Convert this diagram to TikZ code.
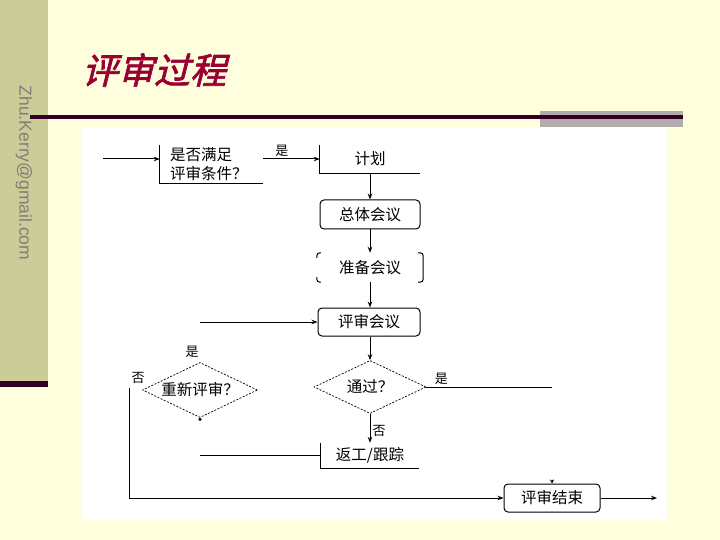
\documentclass[tikz,border=0pt]{standalone}
\usepackage{fontspec}
\setmainfont{Liberation Sans}
\newfontfamily\cjk{Noto Sans CJK SC}
\newfontfamily\cjktitle[FakeSlant=0.25,FakeBold=2]{Noto Sans CJK SC}
\usetikzlibrary{shapes.geometric,arrows.meta,calc}
\definecolor{cream}{HTML}{FFFFDD}
\definecolor{khaki}{HTML}{CCCC99}
\definecolor{darkplum}{HTML}{330022}
\definecolor{barGray}{HTML}{B2ADAD}
\definecolor{titlered}{HTML}{990033}
\definecolor{mailgray}{HTML}{7F7F7A}
\tikzset{
  flow/.style={font=\cjk\fontsize{15.5}{19}\selectfont, inner sep=0pt, align=center},
  rbox/.style={flow, draw, rounded corners=4pt, line width=1pt},
  plainbox/.style={flow},
  dia/.style={flow, diamond, draw, aspect=2.1, line width=0.7pt, dash pattern=on 2pt off 1.5pt},
  conn/.style={line width=1pt},
  arr/.style={-{Stealth[length=6pt,width=4.5pt]}},
  lab/.style={font=\cjk\fontsize{13}{13}\selectfont, inner sep=1pt},
}
\begin{document}
\begin{tikzpicture}[x=1pt,y=-1pt]
\useasboundingbox (0,0) rectangle (720,540);
% background
\fill[cream] (0,0) rectangle (720,540);
\fill[khaki] (0,0) rectangle (48,387);
\fill[darkplum] (0,381) rectangle (48,387);
\fill[barGray] (540,111) rectangle (683,127);
\draw[darkplum, line width=3.5pt] (30,117) -- (683,117);
\fill[white] (82,127) rectangle (667,520);
% texts
\node[rotate=-90, font=\fontsize{17.5}{17.5}\selectfont, text=mailgray, inner sep=0] (mail) at (24,173) {Zhu.Kerry@gmail.com};
\node[font=\cjktitle\fontsize{36}{36}\selectfont, text=titlered, inner sep=0] (title) at (154,70) {评审过程};
% nodes
\node[plainbox, text width=83pt, inner xsep=10pt, align=left, minimum height=38pt] (cond) at (211.5,164) {是否满足\\评审条件？};
\node[plainbox, minimum width=100pt, minimum height=28pt] (plan) at (370,159) {计划};
\node[rbox, minimum width=100pt, minimum height=29pt] (total) at (370,214.5) {总体会议};
\node[plainbox, minimum width=106pt, minimum height=29pt] (prep) at (370,267.5) {准备会议};
\node[rbox, minimum width=102pt, minimum height=28pt] (review) at (369,322) {评审会议};
\node[dia, minimum width=112pt, minimum height=53pt] (pass) at (370,387) {通过？};
\node[plainbox, minimum width=98pt, minimum height=25pt] (rework) at (370,455.5) {返工/跟踪};
\node[dia, minimum width=115pt, minimum height=55pt] (redo) at (200,390) {重新评审？};
\node[rbox, minimum width=96pt, minimum height=28pt] (endbox) at (552,498) {评审结束};
\node[circle, fill, inner sep=0pt, minimum size=3.5pt] (dot) at ([yshift=-1.5pt]redo.south) {};
% partial borders
\draw[conn] (cond.north west) -- (cond.south west) -- (cond.south east);
\draw[conn] (plan.north west) -- (plan.south west) -- (plan.south east);
\draw[conn] (rework.north west) -- (rework.south west) -- (rework.south east);
\draw[conn, rounded corners=3pt] ([xshift=-5pt]prep.north east) -- (prep.north east) -- (prep.south east) -- ([xshift=-5pt]prep.south east);
\draw[conn, rounded corners=3pt] ([xshift=4pt]prep.north west) -- (prep.north west) -- ([yshift=-5pt]prep.north west);
\draw[conn, rounded corners=3pt] ([xshift=4pt]prep.south west) -- (prep.south west) -- ([yshift=5pt]prep.south west);
% coordinates
\coordinate (in1) at (103,159);
\coordinate (revIn) at (200,322);
\coordinate (yesEnd) at (552,387);
\coordinate (rwEnd) at (200,455.5);
\coordinate (loopTop) at (129,388);
\coordinate (outEnd) at (657,498);
% connectors
\draw[conn, arr] (in1) -- (in1 -| cond.west);
\draw[conn, arr] (plan.west -| cond.east) -- node[lab, pos=0.33, above=1pt] (yes1) {是} (plan.west);
\draw[conn, arr] (plan.south) -- (total.north);
\draw[conn, arr] (total.south) -- (prep.north);
\draw[conn, arr] (prep.south) -- (review.north -| prep.south);
\draw[conn, arr] (revIn) -- (review.west);
\draw[conn, arr] (review.south -| pass.north) -- (pass.north);
\draw[conn] (pass.east) -- node[lab, pos=0.12, above=1pt] (yes2) {是} (yesEnd);
\draw[conn, arr] (pass.south) -- node[lab, pos=0.6, right=1pt] (no1) {否} (rework.north);
\draw[conn] (rework.west) -- (rwEnd);
\node[lab] (yes3) at ($(redo.north)+(-8,-10)$) {是};
\node[lab] (no2) at ($(redo.west)+(-4,-12)$) {否};
\draw[conn, arr] (loopTop) |- (endbox.west);
\draw[conn, arr] (endbox.east) -- (outEnd);
\draw[conn, -{Stealth[length=4pt,width=4pt]}] ([yshift=4pt]endbox.north) -- (endbox.north);
\end{tikzpicture}
\end{document}
